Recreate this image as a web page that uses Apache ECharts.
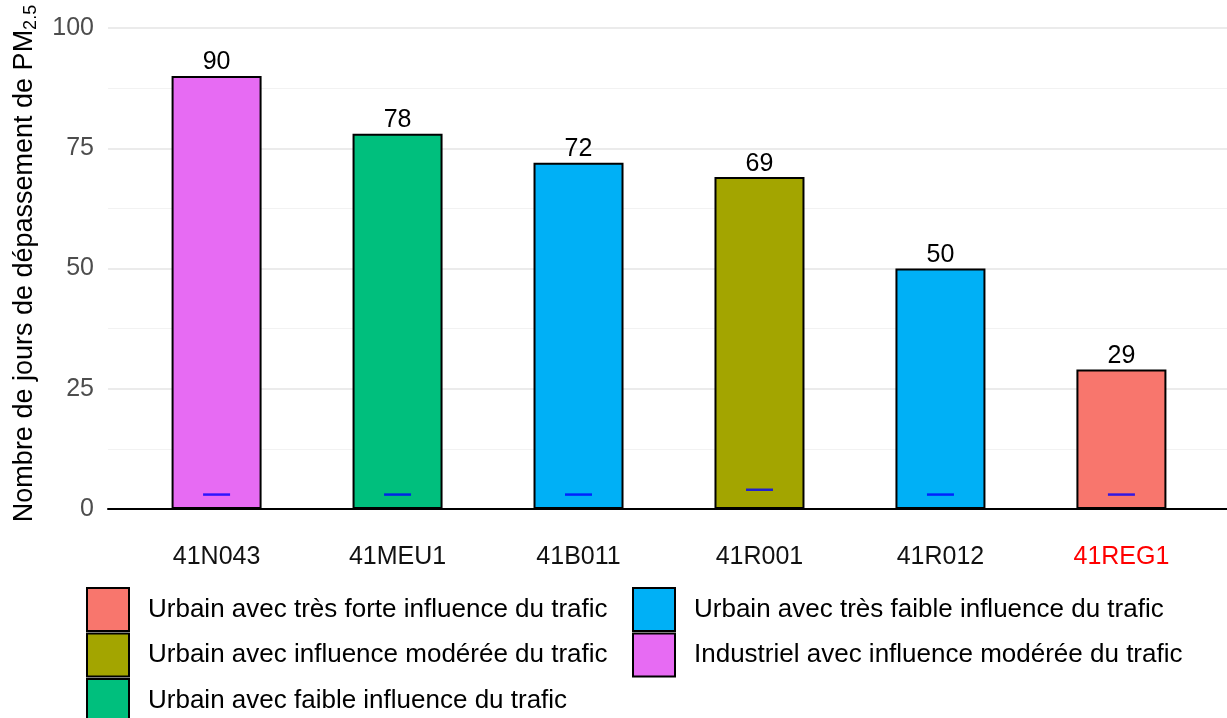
<!doctype html>
<html>
  <head>
    <meta charset="utf-8">
    <title>Dépassements PM2.5</title>
    <script src="https://cdn.jsdelivr.net/npm/echarts@6/dist/echarts.min.js"></script>
    <style>
      html, body { margin: 0; padding: 0; background: #fff; }
      #main { width: 1227px; height: 718px; }
    </style>
  </head>
  <body>
    <div id="main"></div>

    <script type="text/javascript">
      // stations, dans l'ordre de l'axe
      var stations = ['41N043', '41MEU1', '41B011', '41R001', '41R012', '41REG1'];
      // nombre de jours de dépassement
      var jours = [90, 78, 72, 69, 50, 29];
      // petit trait bleu en bas de chaque barre
      var traits = [3, 3, 3, 4, 3, 3];
      // type de station
      var typeStation = [
        'Industriel avec influence modérée du trafic',
        'Urbain avec faible influence du trafic',
        'Urbain avec très faible influence du trafic',
        'Urbain avec influence modérée du trafic',
        'Urbain avec très faible influence du trafic',
        'Urbain avec très forte influence du trafic'
      ];
      var classes = [
        'Urbain avec très forte influence du trafic',
        'Urbain avec influence modérée du trafic',
        'Urbain avec faible influence du trafic',
        'Urbain avec très faible influence du trafic',
        'Industriel avec influence modérée du trafic'
      ];
      var couleurs = ['#F8766D', '#A3A500', '#00BF7D', '#00B0F6', '#E76BF3'];
      var yTicks = [0, 25, 50, 75, 100];

      var police = 'Liberation Sans, Arial, Helvetica, sans-serif';
      var taille = 25;
      var myChart = echarts.init(document.getElementById('main'));

      // une série de barres par type de station
      var series = classes.map(function (c, k) {
        var data = [];
        stations.forEach(function (s, i) {
          if (typeStation[i] === c) data.push([i, jours[i]]);
        });
        return {
          name: c,
          type: 'bar',
          barWidth: 90,
          barGap: '-100%',
          data: data,
          itemStyle: { color: couleurs[k], borderColor: '#000', borderWidth: 2 },
          label: {
            show: true,
            position: 'top',
            distance: 1,
            color: '#000',
            fontSize: taille,
            fontFamily: police
          }
        };
      });

      series.push({
        name: 'trait',
        type: 'scatter',
        symbol: 'rect',
        symbolSize: [27, 2.5],
        itemStyle: { color: '#0000FF' },
        data: traits.map(function (v, i) { return [i, v]; }),
        z: 5
      });

      var legende = function (noms, gauche) {
        return {
          data: noms,
          orient: 'vertical',
          left: gauche,
          top: 587,
          height: 140,
          padding: 0,
          icon: 'rect',
          itemWidth: 42,
          itemHeight: 43,
          itemGap: 0.5,
          selectedMode: false,
          textStyle: { fontSize: 26, fontFamily: police, color: '#000', padding: [0, 0, 0, 14] }
        };
      };

      var option = {
        animation: false,
        grid: { left: 108, top: 28, width: 1122, height: 481, outerBoundsMode: 'none' },
        xAxis: {
          type: 'value',
          min: -0.6,
          max: 5.6,
          axisLine: { show: true, onZero: false, lineStyle: { color: '#000', width: 2 } },
          axisTick: { show: false },
          splitLine: { show: false },
          axisLabel: {
            customValues: stations.map(function (s, i) { return i; }),
            margin: 36,
            fontSize: taille,
            fontFamily: police,
            color: '#111',
            formatter: function (v) {
              var s = stations[Math.round(v)];
              return s === '41REG1' ? '{rouge|' + s + '}' : s;
            },
            rich: {
              rouge: { color: '#FF0000', fontSize: taille, fontFamily: police }
            }
          }
        },
        yAxis: {
          type: 'value',
          min: yTicks[0],
          max: yTicks[yTicks.length - 1],
          interval: 25,
          name: 'Nombre de jours de dépassement de PM{sub|2.5}',
          nameLocation: 'middle',
          nameRotate: 90,
          nameGap: 68,
          nameTextStyle: {
            fontSize: 27,
            fontFamily: police,
            color: '#000',
            padding: [0, 0, 0, 10],
            rich: {
              sub: { fontSize: 18, fontFamily: police, color: '#000', verticalAlign: 'bottom', padding: [12, 0, 0, 0] }
            }
          },
          axisLine: { show: false },
          axisTick: { show: false },
          axisLabel: { fontSize: taille, fontFamily: police, color: '#4D4D4D', margin: 14 },
          splitLine: { show: true, lineStyle: { color: '#EBEBEB', width: 2 } },
          minorTick: { show: false, splitNumber: 2 },
          minorSplitLine: { show: true, lineStyle: { color: '#F2F2F2', width: 1 } }
        },
        legend: [legende(classes.slice(0, 3), 86), legende(classes.slice(3), 632)],
        series: series
      };

      myChart.setOption(option);
    </script>
  </body>
</html>
